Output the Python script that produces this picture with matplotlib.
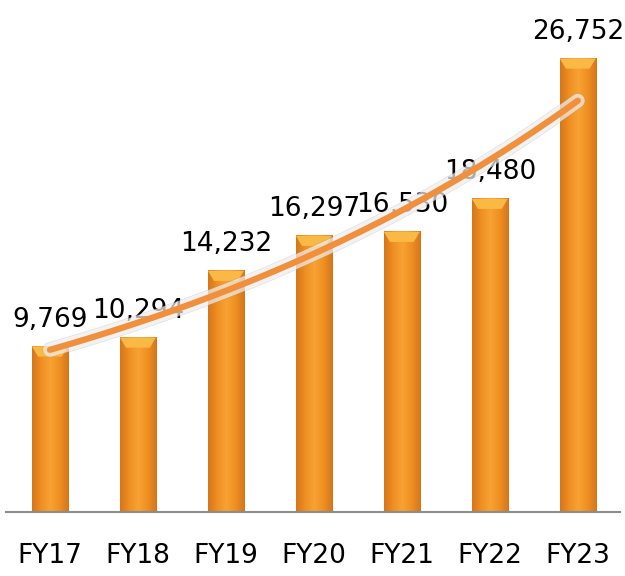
import numpy as np
import matplotlib
matplotlib.use("Agg")
import matplotlib.pyplot as plt
import matplotlib.patheffects as pe
from matplotlib.colors import LinearSegmentedColormap
from matplotlib.patches import Polygon

years = ["FY17", "FY18", "FY19", "FY20", "FY21", "FY22", "FY23"]
values = [9769, 10294, 14232, 16297, 16530, 18480, 26752]

fig = plt.figure(figsize=(6.25, 5.76), dpi=100)
ax = fig.add_axes([0.0096, 0.111, 0.9824, 0.889])

# cylinder-ish shading across each bar
cmap = LinearSegmentedColormap.from_list(
    "barshade", ["#d6761a", "#ef8f22", "#f8a334", "#ef8f22", "#d6761a"])
grad = np.linspace(0, 1, 64).reshape(1, -1)
w = 0.41
x = np.arange(len(values))
for xi, v in zip(x, values):
    ax.imshow(grad, cmap=cmap, extent=[xi - w / 2, xi + w / 2, 0, v],
              aspect="auto", zorder=2, interpolation="bicubic")
    # lighter bevel on top
    bw, bh = 0.07, 600
    top = Polygon([[xi - w / 2, v], [xi + w / 2, v],
                   [xi + w / 2 - bw, v - bh], [xi - w / 2 + bw, v - bh]],
                  closed=True, facecolor="#f9b944", edgecolor="none", zorder=2.5)
    ax.add_patch(top)
    ax.annotate(f"{v:,}", (xi, v), xytext=(0, 14), textcoords="offset points",
                ha="center", va="baseline", fontsize=19, color="black", zorder=3)

# exponential trendline
k, b = np.polyfit(x, np.log(values), 1)
xs = np.linspace(0, len(values) - 1, 200)
ax.plot(xs, np.exp(k * xs + b), color="#f0903c", lw=4.5, solid_capstyle="round",
        zorder=4,
        path_effects=[pe.Stroke(linewidth=11, foreground="#9a9a9a", alpha=0.3),
                      pe.Stroke(linewidth=10, foreground="white", alpha=0.6),
                      pe.Normal()])

ax.set_xlim(-0.5, 6.48)
ax.set_ylim(0, 30200)
ax.set_xticks(x)
ax.set_xticklabels(years, fontsize=19)
ax.tick_params(axis="x", length=0, pad=22)
ax.set_yticks([])
for s in ["top", "right", "left"]:
    ax.spines[s].set_visible(False)
ax.spines["bottom"].set_color("#8c8c8c")
ax.spines["bottom"].set_linewidth(1.5)

fig.savefig("out.png", dpi=100)
